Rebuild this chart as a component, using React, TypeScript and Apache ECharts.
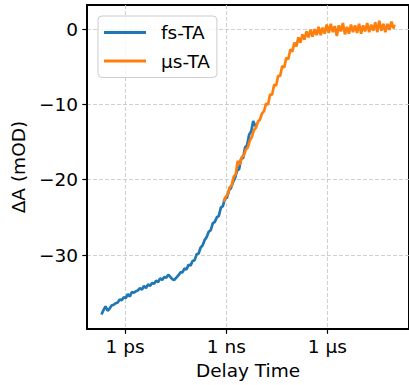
import React, { useEffect, useRef } from "react";
import * as echarts from "echarts";

// log10 of delay time (s) and signal (mOD)
const fsLogDelay = [
  -12.70, -12.64, -12.58, -12.52, -12.46, -12.40, -12.34, -12.28, -12.22, -12.16,
  -12.10, -12.04, -11.98, -11.92, -11.86, -11.80, -11.74, -11.68, -11.62, -11.56,
  -11.50, -11.44, -11.38, -11.32, -11.26, -11.20, -11.14, -11.08, -11.02, -10.96,
  -10.90, -10.84, -10.78, -10.72, -10.66, -10.60, -10.54, -10.48, -10.42, -10.36,
  -10.30, -10.24, -10.18, -10.12, -10.06, -10.00, -9.94, -9.88, -9.82, -9.76,
  -9.70, -9.64, -9.58, -9.52, -9.46, -9.40, -9.34, -9.28, -9.22, -9.16,
  -9.10, -9.04, -8.98, -8.92, -8.86, -8.80, -8.74, -8.68, -8.62, -8.56,
  -8.50, -8.44, -8.38, -8.32, -8.26, -8.20, -8.14,
];
const fsSignal = [
  -37.9, -37.3, -36.8, -37.4, -37.1, -36.7, -36.6, -36.4, -36.3, -35.9,
  -36.0, -35.6, -35.7, -35.2, -35.5, -34.9, -35.0, -34.8, -34.7, -34.4,
  -34.6, -34.1, -34.4, -33.9, -34.1, -33.7, -33.8, -33.4, -33.6, -33.1,
  -33.3, -32.9, -33.0, -32.6, -32.9, -33.2, -33.3, -33.0, -32.7, -32.3,
  -32.3, -31.8, -31.9, -31.3, -31.4, -30.8, -30.7, -29.9, -29.8, -29.0,
  -28.7, -28.0, -27.6, -26.9, -26.7, -25.8, -25.6, -25.0, -24.8, -23.7,
  -23.5, -22.5, -22.4, -21.4, -21.1, -20.3, -19.8, -18.8, -18.6, -17.2,
  -17.1, -15.7, -15.4, -14.0, -13.6, -12.2, -12.9,
];

const usLogDelay = [
  -9.08, -9.02, -8.96, -8.90, -8.84, -8.78, -8.72, -8.66, -8.60, -8.54,
  -8.48, -8.42, -8.36, -8.30, -8.24, -8.18, -8.12, -8.06, -8.00, -7.94,
  -7.88, -7.82, -7.76, -7.70, -7.64, -7.58, -7.52, -7.46, -7.40, -7.34,
  -7.28, -7.22, -7.16, -7.10, -7.04, -6.98, -6.92, -6.86, -6.80, -6.74,
  -6.68, -6.62, -6.56, -6.50, -6.44, -6.38, -6.32, -6.26, -6.20, -6.14,
  -6.08, -6.02, -5.96, -5.90, -5.84, -5.78, -5.72, -5.66, -5.60, -5.54,
  -5.48, -5.42, -5.36, -5.30, -5.24, -5.18, -5.12, -5.06, -5.00, -4.94,
  -4.88, -4.82, -4.76, -4.70, -4.64, -4.58, -4.52, -4.46, -4.40, -4.34,
  -4.28, -4.22, -4.16, -4.10, -4.04, -4.01,
];
const usSignal = [
  -22.9, -22.3, -22.0, -21.0, -20.8, -19.6, -19.3, -17.5, -18.0, -17.0,
  -16.8, -16.0, -15.7, -14.8, -14.3, -13.4, -13.1, -12.3, -12.0, -11.2,
  -10.9, -9.9, -10.0, -8.7, -8.7, -7.4, -7.5, -6.2, -6.2, -4.9,
  -5.1, -3.8, -4.0, -2.7, -3.0, -1.8, -2.3, -1.1, -1.8, -0.7,
  -1.4, -0.3, -1.1, -0.1, -1.0, 0.0, -0.8, 0.3, -0.8, 0.2,
  -0.6, 0.6, -0.5, 0.7, -0.4, 0.4, -0.9, 0.5, -0.3, 0.8,
  -0.7, 0.3, -0.6, 0.6, -0.4, 0.5, -0.5, 0.7, -0.6, 0.5,
  -0.3, 0.8, -0.4, 0.6, -0.2, 0.9, -0.4, 1.1, -0.2, 0.7,
  -0.4, 0.7, -0.1, 1.0, 0.1, 0.6,
];

const seriesNames = ["fs-TA", "\u03bcs-TA"];
const seriesColors = ["#1f77b4", "#ff7f0e"];

const xTicks = [1e-12, 1e-9, 1e-6];
const xTickLabels = ["1 ps", "1 ns", "1 \u03bcs"];
const yTicks = [-30, -20, -10, 0];

const FONT = "DejaVu Sans";
const FS = 18.5;

export default function App() {
  const ref = useRef<HTMLDivElement>(null);
  useEffect(() => {
    if (!ref.current) return;
    const chart = echarts.init(ref.current, undefined, { renderer: "svg" });
    const fsData = fsLogDelay.map((e, i) => [Math.pow(10, e), fsSignal[i]]);
    const usData = usLogDelay.map((e, i) => [Math.pow(10, e), usSignal[i]]);
    const xLabel = (v: number) => {
      const k = Math.round(Math.log10(v));
      const idx = xTicks.findIndex((t) => Math.round(Math.log10(t)) === k);
      return idx >= 0 ? xTickLabels[idx] : "";
    };
    const gridLine = { show: true, lineStyle: { color: "#c4c4c4", width: 0.8, type: [4, 2] as any } };
    chart.setOption({
      animation: false,
      textStyle: { fontFamily: FONT },
      grid: {
        left: 87,
        top: 5,
        width: 329.5,
        height: 327,
        show: true,
        borderColor: "#000",
        borderWidth: 2,
        backgroundColor: "transparent",
      },
      legend: {
        orient: "vertical",
        left: 98,
        top: 16,
        data: seriesNames,
        icon: "rect",
        itemWidth: 42,
        itemHeight: 3,
        itemGap: 9.5,
        padding: [7, 7, 7, 6],
        backgroundColor: "rgba(255,255,255,0.8)",
        borderColor: "#cccccc",
        borderWidth: 1,
        borderRadius: 4,
        textStyle: { fontFamily: FONT, fontSize: FS, color: "#000", padding: [0, 0, 0, 10] },
      },
      xAxis: {
        type: "log",
        logBase: 10,
        min: Math.pow(10, -13.13),
        max: Math.pow(10, -3.58),
        name: "Delay Time",
        nameLocation: "middle",
        nameGap: 31,
        nameTextStyle: { fontFamily: FONT, fontSize: FS, color: "#000" },
        axisLine: { show: true, onZero: false, lineStyle: { color: "#000", width: 2 } },
        axisTick: { show: true, length: 4.7, lineStyle: { color: "#000", width: 1.2 }, customValues: xTicks },
        axisLabel: {
          show: true,
          margin: 8,
          fontFamily: FONT,
          fontSize: FS,
          color: "#000",
          customValues: xTicks,
          formatter: xLabel,
        },
        splitLine: gridLine,
        minorTick: { show: false },
        minorSplitLine: { show: false },
      },
      yAxis: {
        type: "value",
        min: -39.83,
        max: 3.2,
        name: "\u0394A (mOD)",
        nameLocation: "middle",
        nameGap: 44,
        nameTextStyle: { fontFamily: FONT, fontSize: FS, color: "#000" },
        axisLine: { show: true, onZero: false, lineStyle: { color: "#000", width: 2 } },
        axisTick: { show: true, length: 4.7, lineStyle: { color: "#000", width: 1.2 }, customValues: yTicks },
        axisLabel: {
          show: true,
          margin: 9,
          fontFamily: FONT,
          fontSize: FS,
          color: "#000",
          customValues: yTicks,
          formatter: (v: number) => (v < 0 ? "\u2212" + Math.abs(v) : String(v)),
        },
        splitLine: gridLine,
      },
      series: [
        {
          name: seriesNames[0],
          type: "line",
          data: fsData,
          showSymbol: false,
          symbol: "none",
          color: seriesColors[0],
          lineStyle: { width: 2.7, color: seriesColors[0] },
          z: 2,
        },
        {
          name: seriesNames[1],
          type: "line",
          data: usData,
          showSymbol: false,
          symbol: "none",
          color: seriesColors[1],
          lineStyle: { width: 2.7, color: seriesColors[1] },
          z: 3,
        },
      ],
    });
    return () => chart.dispose();
  }, []);
  return <div ref={ref} style={{ width: 409, height: 385, position: "absolute", left: 0, top: 0 }} />;
}
